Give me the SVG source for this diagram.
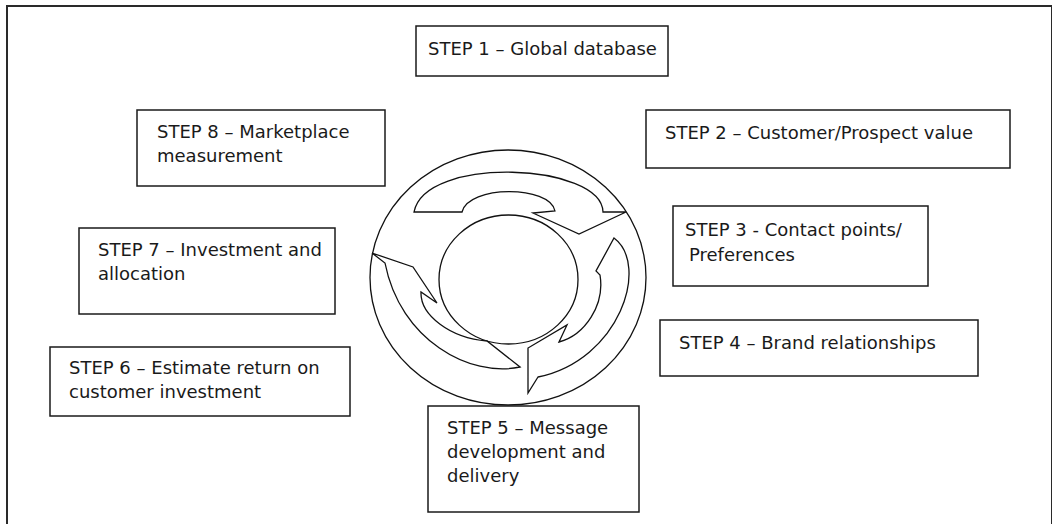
<svg xmlns="http://www.w3.org/2000/svg" width="1052" height="524" viewBox="0 0 1052 524">
<style>
.box{fill:#fff;stroke:#1a1a1a;stroke-width:1.5}
.t{font-family:"DejaVu Sans","Liberation Sans",sans-serif;font-size:18px;fill:#1a1a1a}
.shape{fill:#fff;stroke:#111;stroke-width:1.3;stroke-linejoin:miter}
</style>
<rect x="0" y="0" width="1052" height="524" fill="#fff"/>
<rect x="7" y="6" width="1045" height="530" fill="none" stroke="#2a2a2a" stroke-width="2"/>

<g id="cycle">
  <ellipse class="shape" cx="508" cy="277.5" rx="138" ry="127.5"/>
  <ellipse class="shape" cx="508.5" cy="279.5" rx="69.5" ry="64.5"/>
</g>

<g id="connectors">
  <path class="shape" d="M 414 212 L 462 212 C 468 185, 550 185, 555 211 L 533 213 L 579 234 L 626 212 L 603 212 C 602 163, 425 155, 414 212 Z"/>
  <path class="shape" d="M 614 238 C 650 265, 620 360, 538 377 L 528 393 L 528 348 L 567 325 L 559 342 C 585 335, 605 305, 600 275 L 596 271 Z"/>
  <path class="shape" d="M 372 253 L 413 267 L 437 303 L 421 292 C 420 315, 450 338, 487 341 L 520 367 C 470 378, 400 340, 385 263 Z"/>
</g>

<g id="step1">
  <rect class="box" x="416" y="26" width="252" height="50"/>
  <text class="t" x="428" y="55">STEP 1 – Global database</text>
</g>
<g id="step2">
  <rect class="box" x="646" y="110" width="364" height="58"/>
  <text class="t" x="665" y="139">STEP 2 – Customer/Prospect value</text>
</g>
<g id="step3">
  <rect class="box" x="673" y="206" width="255" height="80"/>
  <text class="t" x="685" y="236">STEP 3 - Contact points/</text>
  <text class="t" x="689" y="261">Preferences</text>
</g>
<g id="step4">
  <rect class="box" x="660" y="320" width="318" height="56"/>
  <text class="t" x="679" y="349">STEP 4 – Brand relationships</text>
</g>
<g id="step5">
  <rect class="box" x="428" y="406" width="211" height="106"/>
  <text class="t" x="447" y="434">STEP 5 – Message</text>
  <text class="t" x="447" y="458">development and</text>
  <text class="t" x="447" y="482">delivery</text>
</g>
<g id="step6">
  <rect class="box" x="50" y="347" width="300" height="69"/>
  <text class="t" x="69" y="374">STEP 6 – Estimate return on</text>
  <text class="t" x="69" y="398">customer investment</text>
</g>
<g id="step7">
  <rect class="box" x="79" y="228" width="256" height="86"/>
  <text class="t" x="98" y="256">STEP 7 – Investment and</text>
  <text class="t" x="98" y="280">allocation</text>
</g>
<g id="step8">
  <rect class="box" x="137" y="110" width="248" height="76"/>
  <text class="t" x="157" y="138">STEP 8 – Marketplace</text>
  <text class="t" x="157" y="162">measurement</text>
</g>
</svg>
